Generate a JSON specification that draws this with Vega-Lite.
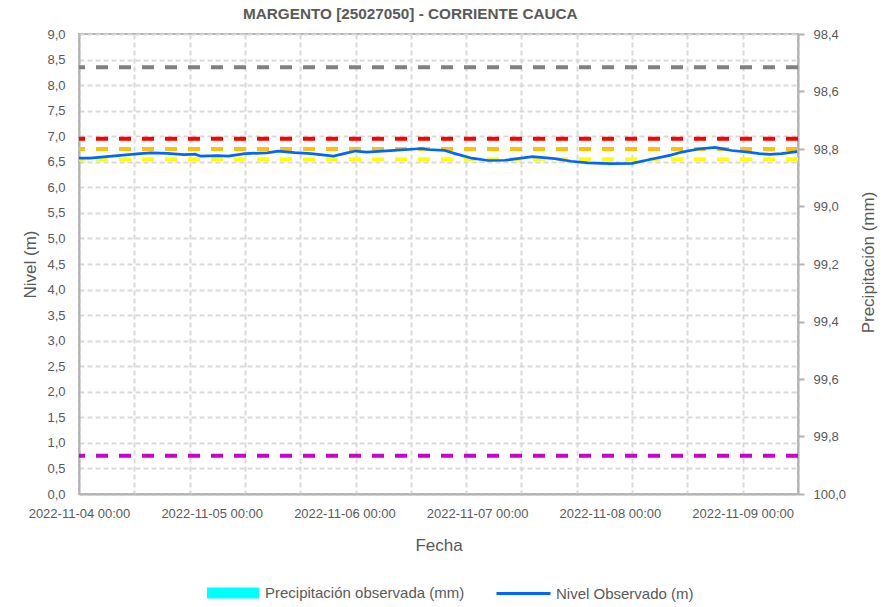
{
  "$schema": "https://vega.github.io/schema/vega-lite/v6.json",
  "width": 719,
  "height": 460,
  "autosize": {"type": "none"},
  "padding": {"left": 79, "top": 34, "right": 86, "bottom": 113},
  "background": "white",
  "config": {
    "font": "Liberation Sans",
    "view": {"stroke": "#b3b3b3", "strokeWidth": 2},
    "axis": {"labelFont": "Liberation Sans", "titleFont": "Liberation Sans", "labelColor": "#595959", "titleColor": "#595959", "titleFontWeight": "normal", "labelFontSize": 13, "titleFontSize": 17, "domainColor": "#b3b3b3", "domainWidth": 2},
    "legend": {"labelFont": "Liberation Sans", "labelColor": "#595959", "labelFontSize": 15, "padding": 0, "labelLimit": 0}
  },
  "title": {"text": "MARGENTO [25027050] - CORRIENTE CAUCA", "anchor": "start", "frame": "group", "dx": 164, "offset": 6, "fontSize": 15.3, "fontWeight": "bold", "color": "#595959", "font": "Liberation Sans"},
  "datasets": {
    "nivel": [
      {"fecha": "2022-11-04T00:00Z", "nivel": 6.57},
      {"fecha": "2022-11-04T02:00Z", "nivel": 6.57},
      {"fecha": "2022-11-04T09:00Z", "nivel": 6.64},
      {"fecha": "2022-11-04T11:00Z", "nivel": 6.66},
      {"fecha": "2022-11-04T13:00Z", "nivel": 6.675},
      {"fecha": "2022-11-04T16:00Z", "nivel": 6.665},
      {"fecha": "2022-11-04T19:00Z", "nivel": 6.64},
      {"fecha": "2022-11-04T21:00Z", "nivel": 6.65},
      {"fecha": "2022-11-04T22:00Z", "nivel": 6.61},
      {"fecha": "2022-11-05T01:00Z", "nivel": 6.62},
      {"fecha": "2022-11-05T03:00Z", "nivel": 6.61},
      {"fecha": "2022-11-05T06:00Z", "nivel": 6.66},
      {"fecha": "2022-11-05T10:00Z", "nivel": 6.675},
      {"fecha": "2022-11-05T12:00Z", "nivel": 6.71},
      {"fecha": "2022-11-05T15:00Z", "nivel": 6.68},
      {"fecha": "2022-11-05T18:00Z", "nivel": 6.66},
      {"fecha": "2022-11-05T22:00Z", "nivel": 6.61},
      {"fecha": "2022-11-06T00:30Z", "nivel": 6.675},
      {"fecha": "2022-11-06T02:00Z", "nivel": 6.71},
      {"fecha": "2022-11-06T04:00Z", "nivel": 6.69},
      {"fecha": "2022-11-06T09:00Z", "nivel": 6.725},
      {"fecha": "2022-11-06T14:00Z", "nivel": 6.76},
      {"fecha": "2022-11-06T15:00Z", "nivel": 6.74},
      {"fecha": "2022-11-06T18:00Z", "nivel": 6.725},
      {"fecha": "2022-11-06T20:00Z", "nivel": 6.66},
      {"fecha": "2022-11-06T23:00Z", "nivel": 6.57},
      {"fecha": "2022-11-07T02:00Z", "nivel": 6.525},
      {"fecha": "2022-11-07T05:00Z", "nivel": 6.53},
      {"fecha": "2022-11-07T10:00Z", "nivel": 6.6},
      {"fecha": "2022-11-07T14:00Z", "nivel": 6.56},
      {"fecha": "2022-11-07T17:00Z", "nivel": 6.51},
      {"fecha": "2022-11-07T20:00Z", "nivel": 6.48},
      {"fecha": "2022-11-08T00:00Z", "nivel": 6.465},
      {"fecha": "2022-11-08T04:00Z", "nivel": 6.47},
      {"fecha": "2022-11-08T07:00Z", "nivel": 6.54},
      {"fecha": "2022-11-08T11:00Z", "nivel": 6.63},
      {"fecha": "2022-11-08T13:00Z", "nivel": 6.69},
      {"fecha": "2022-11-08T16:00Z", "nivel": 6.75},
      {"fecha": "2022-11-08T19:00Z", "nivel": 6.78},
      {"fecha": "2022-11-08T22:00Z", "nivel": 6.72},
      {"fecha": "2022-11-09T01:00Z", "nivel": 6.69},
      {"fecha": "2022-11-09T03:00Z", "nivel": 6.66},
      {"fecha": "2022-11-09T05:00Z", "nivel": 6.645},
      {"fecha": "2022-11-09T07:00Z", "nivel": 6.66},
      {"fecha": "2022-11-09T09:50Z", "nivel": 6.7}
    ],
    "umbrales": [
      {"umbral": "gris", "nivel": 8.35},
      {"umbral": "rojo", "nivel": 6.95},
      {"umbral": "naranja", "nivel": 6.75},
      {"umbral": "amarillo", "nivel": 6.55},
      {"umbral": "magenta", "nivel": 0.75}
    ],
    "precip": [
      {"fecha": "2022-11-04T12:00Z", "precip": 0},
      {"fecha": "2022-11-05T12:00Z", "precip": 0},
      {"fecha": "2022-11-06T12:00Z", "precip": 0},
      {"fecha": "2022-11-07T12:00Z", "precip": 0},
      {"fecha": "2022-11-08T12:00Z", "precip": 0}
    ]
  },
  "encoding": {
    "x": {
      "field": "fecha", "type": "temporal", "title": "Fecha",
      "scale": {"type": "utc", "padding": 0, "domain": [{"year": 2022, "month": 11, "date": 4, "hours": 0, "utc": true}, {"year": 2022, "month": 11, "date": 9, "hours": 10, "utc": true}], "nice": false},
      "axis": {
        "values": [
          {"year": 2022, "month": 11, "date": 4, "hours": 0, "utc": true},
          {"year": 2022, "month": 11, "date": 4, "hours": 10, "utc": true},
          {"year": 2022, "month": 11, "date": 4, "hours": 20, "utc": true},
          {"year": 2022, "month": 11, "date": 5, "hours": 0, "utc": true},
          {"year": 2022, "month": 11, "date": 5, "hours": 6, "utc": true},
          {"year": 2022, "month": 11, "date": 5, "hours": 16, "utc": true},
          {"year": 2022, "month": 11, "date": 6, "hours": 0, "utc": true},
          {"year": 2022, "month": 11, "date": 6, "hours": 2, "utc": true},
          {"year": 2022, "month": 11, "date": 6, "hours": 12, "utc": true},
          {"year": 2022, "month": 11, "date": 6, "hours": 22, "utc": true},
          {"year": 2022, "month": 11, "date": 7, "hours": 0, "utc": true},
          {"year": 2022, "month": 11, "date": 7, "hours": 8, "utc": true},
          {"year": 2022, "month": 11, "date": 7, "hours": 18, "utc": true},
          {"year": 2022, "month": 11, "date": 8, "hours": 0, "utc": true},
          {"year": 2022, "month": 11, "date": 8, "hours": 4, "utc": true},
          {"year": 2022, "month": 11, "date": 8, "hours": 14, "utc": true},
          {"year": 2022, "month": 11, "date": 9, "hours": 0, "utc": true},
          {"year": 2022, "month": 11, "date": 9, "hours": 10, "utc": true}
        ],
        "labelExpr": "utchours(datum.value) === 0 ? utcFormat(datum.value, '%Y-%m-%d %H:%M') : ''",
        "labelOverlap": false, "labelFlush": false, "labelBound": false,
        "ticks": false, "labelPadding": 13,
        "grid": true, "gridColor": "#d9d9d9", "gridWidth": 2, "gridDash": [5, 3],
        "gridOpacity": {"condition": {"test": "((datum.value - utc(2022, 10, 4)) / 3600000) % 10 === 0", "value": 1}, "value": 0},
        "titleX": 359.5, "titleY": 51, "titleAlign": "center", "titleBaseline": "middle", "titleFontSize": 17
      }
    }
  },
  "layer": [
    {
      "layer": [
        {
          "data": {"name": "umbrales"},
          "mark": {"type": "rule", "strokeWidth": 4, "strokeDash": [12, 11]},
          "encoding": {
            "x": null,
            "y": {"field": "nivel", "type": "quantitative"},
            "color": {"field": "umbral", "type": "nominal", "legend": null,
              "scale": {"domain": ["gris", "rojo", "naranja", "amarillo", "magenta"], "range": ["#808080", "#ff0000", "#ffc000", "#ffff00", "#cc00cc"]}}
          }
        },
        {
          "data": {"name": "nivel"},
          "mark": {"type": "line", "strokeWidth": 2.7},
          "encoding": {
            "y": {"field": "nivel", "type": "quantitative"},
            "stroke": {"datum": "Nivel Observado (m)", "type": "nominal", "scale": {"range": ["#0066ff"]},
              "legend": {"title": null, "orient": "none", "legendX": 416, "legendY": 531, "symbolType": "stroke", "symbolSize": 2916, "symbolStrokeWidth": 3, "labelOffset": 4}}
          }
        }
      ],
      "encoding": {
        "y": {
          "field": "nivel", "type": "quantitative", "title": "Nivel (m)",
          "scale": {"domain": [0, 9], "nice": false, "zero": false},
          "axis": {
            "values": [0, 0.5, 1, 1.5, 2, 2.5, 3, 3.5, 4, 4.5, 5, 5.5, 6, 6.5, 7, 7.5, 8, 8.5, 9],
            "labelExpr": "replace(format(datum.value, '.1f'), '.', ',')",
            "ticks": false, "labelPadding": 14,
            "grid": true, "gridColor": "#d9d9d9", "gridWidth": 2, "gridDash": [5, 3],
            "titleX": -49, "titleY": 230, "titleAlign": "center", "titleBaseline": "middle", "titleAngle": 270
          }
        }
      }
    },
    {
      "data": {"name": "precip"},
      "mark": {"type": "bar", "clip": true},
      "encoding": {
        "y": {
          "field": "precip", "type": "quantitative", "title": "Precipitación (mm)",
          "scale": {"domain": [98.4, 100], "reverse": true, "nice": false, "zero": false},
          "axis": {
            "orient": "right",
            "values": [98.4, 98.6, 98.8, 99, 99.2, 99.4, 99.6, 99.8, 100],
            "labelExpr": "replace(format(datum.value, '.1f'), '.', ',')",
            "grid": false, "ticks": true, "tickSize": 6, "tickWidth": 2, "tickColor": "#b3b3b3", "labelPadding": 9,
            "titleX": 70, "titleY": 228, "titleAlign": "center", "titleBaseline": "middle", "titleAngle": 270
          }
        },
        "y2": {"datum": 98.4},
        "fill": {"datum": "Precipitación observada (mm)", "type": "nominal", "scale": {"range": ["#00ffff"]},
          "legend": {"title": null, "orient": "none", "legendX": 128, "legendY": 533, "symbolType": "M-1,-0.2115L1,-0.2115L1,0.2115L-1,0.2115Z", "symbolSize": 2704, "symbolStrokeWidth": 0, "labelOffset": 6}}
      }
    }
  ],
  "resolve": {"scale": {"y": "independent"}}
}
